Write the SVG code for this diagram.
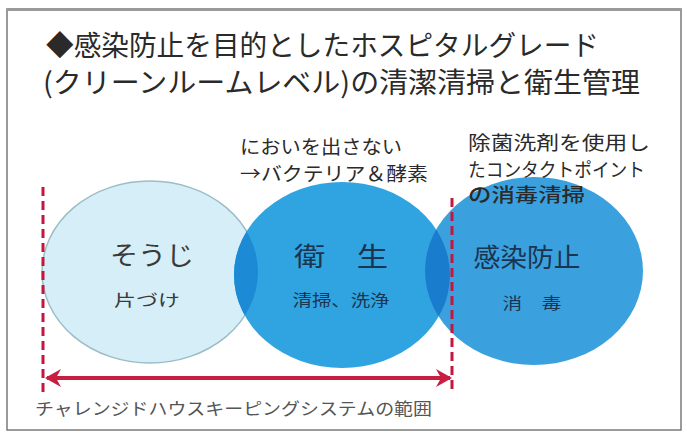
<svg xmlns="http://www.w3.org/2000/svg" width="687" height="434" viewBox="0 0 687 434">
  <defs>
    <style>
      text { font-family: "Noto Sans CJK JP", "Noto Sans", sans-serif; }
      .title { font-size: 28px; fill: #2a2a2a; }
      .note { font-size: 19px; fill: #2a2a2a; }
      .big { font-size: 26px; text-anchor: middle; }
      .small { font-size: 16px; text-anchor: middle; }
      .dash { stroke: #c4173f; stroke-width: 3; stroke-dasharray: 9 5; fill: none; }
      .range { stroke: #c81e40; stroke-width: 4; fill: none; }
    </style>
    <marker id="ah" viewBox="0 0 16 18" refX="14" refY="9" markerWidth="16" markerHeight="18" markerUnits="userSpaceOnUse" orient="auto-start-reverse">
      <path d="M0,0 L16,9 L0,18 L5,9 Z" fill="#c81e40"/>
    </marker>
    <clipPath id="clip2"><ellipse cx="342" cy="275" rx="108" ry="93"/></clipPath>
    <clipPath id="clip3"><ellipse cx="534" cy="271" rx="109" ry="94"/></clipPath>
  </defs>

  <rect x="0" y="0" width="687" height="434" fill="#ffffff"/>
  <g id="frame">
    <rect x="7" y="9" width="674" height="421" fill="#ffffff" stroke="#7a7a7a" stroke-width="1.5"/>
    <line x1="7" y1="9.5" x2="681" y2="9.5" stroke="#9a9a9a" stroke-width="3"/>
  </g>

  <g id="title">
    <text class="title" x="46" y="56" textLength="553" lengthAdjust="spacingAndGlyphs">◆感染防止を目的としたホスピタルグレード</text>
    <text class="title" x="43" y="93" textLength="597" lengthAdjust="spacingAndGlyphs">(クリーンルームレベル)の清潔清掃と衛生管理</text>
  </g>

  <g id="node-souji">
    <ellipse cx="150" cy="272" rx="108" ry="91" fill="#d5eef7" stroke="#9cbcc6" stroke-width="1.5"/>
  </g>
  <g id="node-eisei">
    <ellipse cx="342" cy="275" rx="108" ry="93" fill="#30a4e1"/>
    <ellipse cx="150" cy="272" rx="108" ry="91" fill="#1c8ad4" clip-path="url(#clip2)"/>
  </g>
  <g id="node-kansen">
    <ellipse cx="534" cy="271" rx="109" ry="94" fill="#3aa1de"/>
    <ellipse cx="342" cy="275" rx="108" ry="93" fill="#1a7ccd" clip-path="url(#clip3)"/>
  </g>

  <g id="labels-souji">
    <text class="big" x="152" y="265" fill="#3a3a3a" textLength="84" lengthAdjust="spacingAndGlyphs">そうじ</text>
    <text class="small" x="147" y="306" fill="#3a3a3a" textLength="66" lengthAdjust="spacingAndGlyphs">片づけ</text>
  </g>
  <g id="labels-eisei">
    <text class="big" x="341" y="266" fill="#1b3550" textLength="94" lengthAdjust="spacingAndGlyphs">衛　生</text>
    <text class="small" x="341" y="306" fill="#1b3550" textLength="97" lengthAdjust="spacingAndGlyphs">清掃、洗浄</text>
  </g>
  <g id="labels-kansen">
    <text class="big" x="527" y="267" fill="#1b3550" textLength="107" lengthAdjust="spacingAndGlyphs">感染防止</text>
    <text class="small" x="532" y="309" fill="#1b3550" textLength="59" lengthAdjust="spacingAndGlyphs">消　毒</text>
  </g>

  <g id="note-odor">
    <text class="note" x="240" y="154" textLength="162" lengthAdjust="spacingAndGlyphs">においを出さない</text>
    <text class="note" x="240" y="181" textLength="188" lengthAdjust="spacingAndGlyphs">→バクテリア＆酵素</text>
  </g>
  <g id="note-disinfect">
    <text class="note" x="468" y="150" textLength="182" lengthAdjust="spacingAndGlyphs">除菌洗剤を使用し</text>
    <text class="note" x="468" y="177" textLength="177" lengthAdjust="spacingAndGlyphs">たコンタクトポイント</text>
    <text class="note" x="468" y="202" textLength="117" lengthAdjust="spacingAndGlyphs" fill="#151515" font-weight="500">の消毒清掃</text>
  </g>

  <g id="connectors">
    <line class="dash" x1="43" y1="187" x2="43" y2="393"/>
    <line class="dash" x1="452" y1="198" x2="452" y2="393"/>
    <line class="range" x1="47" y1="378" x2="450" y2="378" marker-start="url(#ah)" marker-end="url(#ah)"/>
  </g>

  <g id="range-label">
    <text x="35" y="415" font-size="17" fill="#555555" textLength="397" lengthAdjust="spacingAndGlyphs">チャレンジドハウスキーピングシステムの範囲</text>
  </g>
</svg>
